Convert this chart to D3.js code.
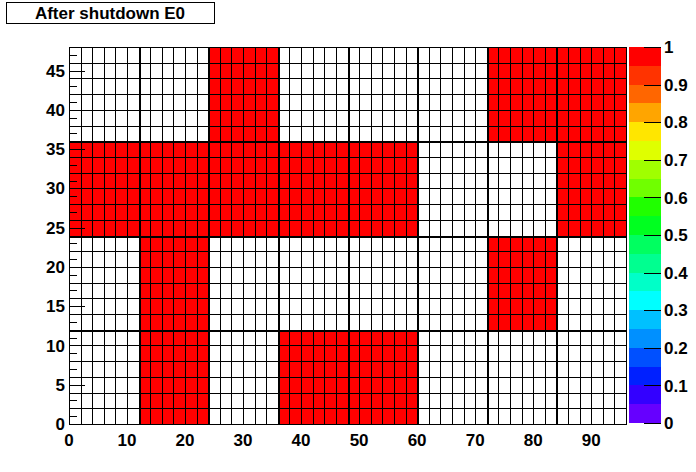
<!DOCTYPE html>
<html><head><meta charset="utf-8">
<script src="https://cdn.jsdelivr.net/npm/d3@7"></script>
<style>body{margin:0;background:#fff}svg{display:block}text{font-family:"Liberation Sans",Arial,sans-serif;font-weight:bold;fill:#000}</style>
</head><body><svg id="c" width="696" height="472"></svg>
<script>
// ---- data ----
const title = "After shutdown E0";
const xDomain = [0, 96];
const yDomain = [0, 48];
const cellSize = 2;        // bin width in x and y
const moduleSize = 12;     // module (block) size
// module values, one array per module row (x = 0..96 in steps of 12)
const modRow_0_12  = [0, 1, 0, 1, 1, 0, 0, 0];
const modRow_12_24 = [0, 1, 0, 0, 0, 0, 1, 0];
const modRow_24_36 = [1, 1, 1, 1, 1, 0, 0, 1];
const modRow_36_48 = [0, 0, 1, 0, 0, 0, 1, 1];
const moduleRows = [modRow_0_12, modRow_12_24, modRow_24_36, modRow_36_48];
const xTicks = [0, 10, 20, 30, 40, 50, 60, 70, 80, 90];
const yTicks = [0, 5, 10, 15, 20, 25, 30, 35, 40, 45];
const zTicks = [0, 0.1, 0.2, 0.3, 0.4, 0.5, 0.6, 0.7, 0.8, 0.9, 1];
const zTickLabels = ["0", "0.1", "0.2", "0.3", "0.4", "0.5", "0.6", "0.7", "0.8", "0.9", "1"];
const paletteColors = ["#6600ff","#3300ff","#0020ff","#0050ff","#0090ff","#00c0ff","#00ffff","#00ffc8","#00ff90","#00ff60",
                       "#00ff20","#20ff00","#70ff00","#a0ff00","#dfff00","#ffe600","#ffa500","#ff6600","#ff3300","#ff0000"];

// ---- cells from modules ----
const cells = [];
moduleRows.forEach((row, r) => {
  row.forEach((v, c) => {
    if (!v) return;
    for (let ix = 0; ix < moduleSize; ix += cellSize)
      for (let iy = 0; iy < moduleSize; iy += cellSize)
        cells.push({x: c * moduleSize + ix, y: r * moduleSize + iy, v});
  });
});

const svg = d3.select("#c");
const L = 69, R = 626, T = 47, B = 424;
const x = d3.scaleLinear().domain(xDomain).range([L, R]);
const y = d3.scaleLinear().domain(yDomain).range([B, T]);
const zBand = d3.scaleQuantize().domain([0, 1]).range(paletteColors);
const zColor = v => v >= 1 ? paletteColors[paletteColors.length - 1] : zBand(v);
const FS = 17;

svg.append("rect").attr("width", 696).attr("height", 472).attr("fill", "#fff");

// cells
svg.append("g").selectAll("rect").data(cells).join("rect")
  .attr("x", d => x(d.x)).attr("y", d => y(d.y + cellSize))
  .attr("width", d => x(d.x + cellSize) - x(d.x))
  .attr("height", d => y(d.y) - y(d.y + cellSize))
  .attr("fill", d => zColor(d.v))
  .attr("shape-rendering", "crispEdges");

// thin grid lines
const gx = d3.range(xDomain[0], xDomain[1] + 1, cellSize);
const gy = d3.range(yDomain[0], yDomain[1] + 1, cellSize);
const g = svg.append("g").attr("stroke", "#000").attr("shape-rendering", "crispEdges");
g.selectAll(".vx").data(gx).join("line")
  .attr("x1", d => Math.round(x(d)) + 0.5).attr("x2", d => Math.round(x(d)) + 0.5)
  .attr("y1", T).attr("y2", B).attr("stroke-width", 1);
g.selectAll(".hy").data(gy).join("line")
  .attr("y1", d => Math.round(y(d)) + 0.5).attr("y2", d => Math.round(y(d)) + 0.5)
  .attr("x1", L).attr("x2", R).attr("stroke-width", 1);
// thick module lines
const mx = d3.range(moduleSize, xDomain[1], moduleSize);
const my = d3.range(moduleSize, yDomain[1], moduleSize);
g.selectAll(".mx").data(mx).join("line")
  .attr("x1", d => Math.round(x(d)) + 0.5).attr("x2", d => Math.round(x(d)) + 0.5)
  .attr("y1", T).attr("y2", B).attr("stroke-width", 2);
g.selectAll(".my").data(my).join("line")
  .attr("y1", d => Math.round(y(d)) + 0.5).attr("y2", d => Math.round(y(d)) + 0.5)
  .attr("x1", L).attr("x2", R).attr("stroke-width", 2);

// frame
svg.append("rect").attr("x", L + 0.5).attr("y", T + 0.5).attr("width", R - L).attr("height", B - T)
  .attr("fill", "none").attr("stroke", "#000").attr("shape-rendering", "crispEdges");

// y axis ticks (inside, pointing right)
const yMinor = d3.range(yDomain[0], yDomain[1] + 1, 1);
const at = svg.append("g").attr("stroke", "#000").attr("shape-rendering", "crispEdges");
at.selectAll(".ym").data(yMinor).join("line")
  .attr("x1", L).attr("x2", d => L + (yTicks.includes(d) ? 16 : 8))
  .attr("y1", d => Math.round(y(d)) + 0.5).attr("y2", d => Math.round(y(d)) + 0.5);
// x axis ticks (inside, pointing up)
const xMinor = d3.range(xDomain[0], xDomain[1] + 1, 2);
at.selectAll(".xm").data(xMinor).join("line")
  .attr("y1", B).attr("y2", d => B - (xTicks.includes(d) ? 11 : 6))
  .attr("x1", d => Math.round(x(d)) + 0.5).attr("x2", d => Math.round(x(d)) + 0.5);

// axis labels
svg.append("g").selectAll("text").data(yTicks).join("text")
  .attr("x", L - 4).attr("y", d => y(d)).attr("dy", "0.36em")
  .attr("text-anchor", "end").attr("font-size", FS).text(d => d);
svg.append("g").selectAll("text").data(xTicks).join("text")
  .attr("x", d => x(d)).attr("y", B + 22)
  .attr("text-anchor", "middle").attr("font-size", FS).text(d => d);

// color bar
const cbL = 629, cbR = 661;
const zy = d3.scaleLinear().domain([0, 1]).range([B - 1, T]);
const bands = paletteColors.map((c, i) => ({c, lo: i / paletteColors.length, hi: (i + 1) / paletteColors.length}));
svg.append("g").selectAll("rect").data(bands).join("rect")
  .attr("x", cbL).attr("width", cbR - cbL)
  .attr("y", d => zy(d.hi)).attr("height", d => zy(d.lo) - zy(d.hi))
  .attr("fill", d => d.c).attr("shape-rendering", "crispEdges");
svg.append("g").attr("stroke", "#000").attr("shape-rendering", "crispEdges")
  .selectAll("line").data(zTicks).join("line")
  .attr("x1", cbR - 17).attr("x2", cbR)
  .attr("y1", d => Math.round(zy(d)) + 0.5).attr("y2", d => Math.round(zy(d)) + 0.5);
svg.append("g").selectAll("text").data(zTicks).join("text")
  .attr("x", cbR + 3).attr("y", d => zy(d)).attr("dy", "0.36em")
  .attr("font-size", FS).text((d, i) => zTickLabels[i]);

// title box
svg.append("rect").attr("x", 6.5).attr("y", 2.5).attr("width", 208).attr("height", 21)
  .attr("fill", "#fff").attr("stroke", "#000").attr("shape-rendering", "crispEdges");
svg.append("text").attr("x", 110).attr("y", 19).attr("text-anchor", "middle")
  .attr("font-size", 17).text(title);
</script></body></html>
